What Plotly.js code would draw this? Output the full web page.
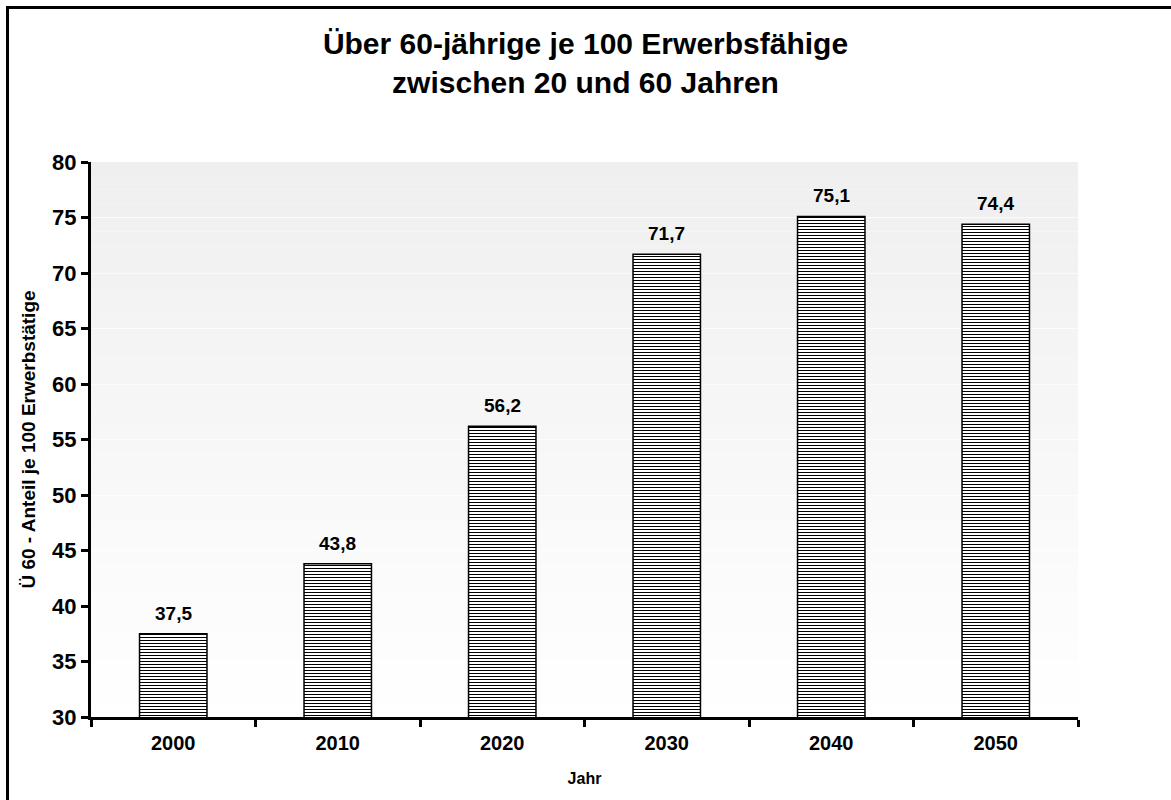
<!DOCTYPE html>
<html>
<head>
<meta charset="utf-8">
<script src="https://cdn.plot.ly/plotly-3.0.1.min.js"></script>
<style>
  html, body { margin: 0; padding: 0; background: #ffffff; overflow: hidden; }
  #frame { position: absolute; left: 6px; top: 6px; width: 1300px; height: 900px;
           border-left: 3px solid #000; border-top: 3px solid #000; box-sizing: border-box; }
  #chart { position: absolute; left: 0; top: 0; width: 1171px; height: 800px; }
</style>
</head>
<body>
<div id="frame"></div>
<div id="chart"></div>
<script>
// Data
const years = ['2000', '2010', '2020', '2030', '2040', '2050'];
const values = [37.5, 43.8, 56.2, 71.7, 75.1, 74.4];
const valueLabels = ['37,5', '43,8', '56,2', '71,7', '75,1', '74,4'];
const yTicks = [30, 35, 40, 45, 50, 55, 60, 65, 70, 75, 80];

// Gradient background bands (styling only)
const bands = [];
const nBands = 40;
for (let i = 0; i < nBands; i++) {
  const t = i / nBands;            // 0 at bottom, 1 at top
  const c = Math.round(255 - 16 * (t + 0.5 / nBands));
  bands.push({
    type: 'rect', xref: 'x domain', yref: 'y domain', layer: 'below',
    x0: 0, x1: 1, y0: t, y1: (i + 1) / nBands,
    fillcolor: 'rgb(' + c + ',' + c + ',' + c + ')', line: { width: 0 }
  });
}

const trace = {
  type: 'bar',
  x: years,
  y: values,
  base: 0,
  width: 0.41,
  marker: {
    color: '#ffffff',
    line: { color: '#000000', width: 1.5 },
    pattern: { shape: '-', fgcolor: '#000000', bgcolor: '#ffffff', size: 3, solidity: 0.35 }
  },
  hoverinfo: 'skip'
};

// Value labels above the bars (category index on the category axis)
const labelAnnotations = years.map((yr, i) => ({
  x: i, y: values[i], xref: 'x', yref: 'y',
  text: '<b>' + valueLabels[i] + '</b>',
  showarrow: false, yanchor: 'bottom', yshift: 8,
  font: { family: 'Liberation Sans, Arial, sans-serif', size: 19, color: '#000' }
}));

const layout = {
  width: 1171, height: 800,
  margin: { l: 91, r: 93, t: 162, b: 83 },
  paper_bgcolor: 'rgba(0,0,0,0)',
  plot_bgcolor: '#ffffff',
  showlegend: false,
  font: { family: 'Liberation Sans, Arial, sans-serif', color: '#000' },
  title: {
    text: '<b>Über 60-jährige je 100 Erwerbsfähige<br>zwischen 20 und 60 Jahren</b>',
    font: { size: 30, color: '#000' },
    x: 0.5, xanchor: 'center', xref: 'container',
    y: 0.933, yanchor: 'middle', yref: 'container'
  },
  xaxis: {
    type: 'category',
    categoryorder: 'array', categoryarray: years,
    range: [-0.5, years.length - 0.5],
    showline: true, linecolor: '#000', linewidth: 3,
    ticks: 'outside', ticklen: 7, tickwidth: 3, tickcolor: '#000',
    tickson: 'boundaries',
    ticklabelstandoff: 6,
    tickangle: 0,
    showgrid: false,
    tickfont: { size: 20, weight: 'bold' },
    title: { text: '<b>Jahr</b>', font: { size: 16 }, standoff: 20 },
    fixedrange: true
  },
  yaxis: {
    range: [30, 80],
    tickvals: yTicks,
    showline: true, linecolor: '#000', linewidth: 3,
    ticks: 'outside', ticklen: 7, tickwidth: 3, tickcolor: '#000',
    showgrid: true, gridcolor: 'rgba(255,255,255,0.7)', gridwidth: 1,
    zeroline: false,
    tickfont: { size: 22, weight: 'bold' },
    title: { text: '<b>Ü 60 - Anteil je 100 Erwerbstätige</b>', font: { size: 19 }, standoff: 12 },
    fixedrange: true
  },
  shapes: bands,
  annotations: labelAnnotations
};

Plotly.newPlot('chart', [trace], layout, { displayModeBar: false, staticPlot: true });
</script>
</body>
</html>
